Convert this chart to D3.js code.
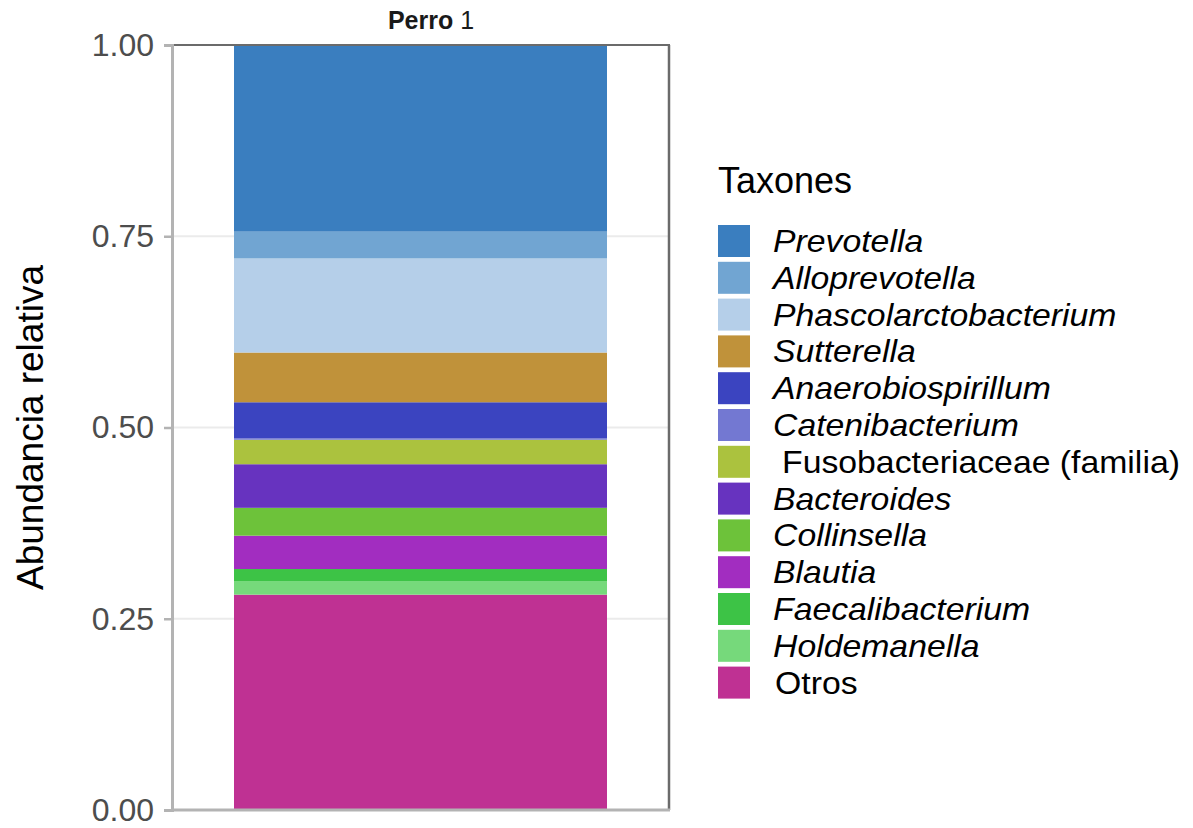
<!DOCTYPE html>
<html>
<head>
<meta charset="utf-8">
<script src="https://cdn.jsdelivr.net/npm/d3@7"></script>
<style>
  body { margin: 0; background: #fff; }
  svg { display: block; font-family: "Liberation Sans", Arial, sans-serif; }
</style>
</head>
<body>
<svg id="chart" width="1193" height="828"></svg>
<script>
// Data (stack order bottom -> top is reverse of legend order)
const sample = "Perro 1";
const taxa = ["Prevotella","Alloprevotella","Phascolarctobacterium","Sutterella","Anaerobiospirillum","Catenibacterium","Fusobacteriaceae (familia)","Bacteroides","Collinsella","Blautia","Faecalibacterium","Holdemanella","Otros"];
const values = [0.244, 0.035, 0.123, 0.065, 0.047, 0.002, 0.032, 0.057, 0.0364, 0.0436, 0.0157, 0.0178, 0.2815];
const colors = ["#3a7ebf","#71a5d2","#b5cfe9","#c0923a","#3b44c0","#7378d2","#abc23e","#6733bf","#6dc23a","#a22dc0","#3dc346","#76d97b","#bf3193"];
const italicTaxa = [true,true,true,true,true,true,false,true,true,true,true,true,false];
const yTicks = [0, 0.25, 0.5, 0.75, 1.0];

const svg = d3.select("#chart");
const panel = {left: 172, right: 669, top: 45, bottom: 810};

const y = d3.scaleLinear().domain([0, 1]).range([panel.bottom, panel.top]);

// gridlines
svg.append("g").selectAll("line").data(yTicks).join("line")
  .attr("x1", panel.left).attr("x2", panel.right)
  .attr("y1", d => y(d)).attr("y2", d => y(d))
  .attr("stroke", "#ebebeb").attr("stroke-width", 2);

// stacked segments: bottom = last taxon
const stackData = [];
let acc = 0;
for (let i = taxa.length - 1; i >= 0; i--) {
  stackData.push({taxon: taxa[i], y0: acc, y1: acc + values[i], color: colors[i]});
  acc += values[i];
}
const barX0 = 234, barX1 = 607;
svg.append("g").selectAll("rect").data(stackData).join("rect")
  .attr("x", barX0)
  .attr("width", barX1 - barX0)
  .attr("y", d => y(d.y1))
  .attr("height", d => y(d.y0) - y(d.y1))
  .attr("fill", d => d.color);

// panel borders
svg.append("line").attr("x1", panel.left).attr("x2", panel.right + 1).attr("y1", panel.top).attr("y2", panel.top)
  .attr("stroke", "#6b6b6b").attr("stroke-width", 2);
svg.append("line").attr("x1", panel.right).attr("x2", panel.right).attr("y1", panel.top).attr("y2", panel.bottom)
  .attr("stroke", "#6b6b6b").attr("stroke-width", 2.5);
svg.append("line").attr("x1", panel.left).attr("x2", panel.right + 1).attr("y1", panel.bottom).attr("y2", panel.bottom)
  .attr("stroke", "#b3b3b3").attr("stroke-width", 3);

// y axis
const yAxis = d3.axisLeft(y).tickValues(yTicks).tickFormat(d3.format(".2f")).tickSize(8).tickPadding(10);
const gy = svg.append("g").attr("transform", `translate(${panel.left},0)`).call(yAxis);
gy.select(".domain").attr("stroke", "#b3b3b3").attr("stroke-width", 3);
gy.selectAll(".tick line").attr("stroke", "#b3b3b3").attr("stroke-width", 2.5);
gy.selectAll(".tick text").attr("font-size", 32).attr("fill", "#4d4d4d")
  .attr("font-family", "'Liberation Sans', Arial, sans-serif");

// y label
svg.append("text")
  .attr("transform", `translate(43, ${(panel.top + panel.bottom) / 2}) rotate(-90)`)
  .attr("text-anchor", "middle")
  .attr("font-size", 37).attr("fill", "#000")
  .text("Abundancia relativa");

// title
const title = svg.append("text").attr("x", 431).attr("y", 29)
  .attr("text-anchor", "middle").attr("font-size", 25).attr("fill", "#1a1a1a");
title.append("tspan").attr("font-weight", "bold").text("Perro");
title.append("tspan").text(" 1");

// legend
const lg = svg.append("g");
lg.append("text").attr("x", 718).attr("y", 193).attr("font-size", 36).attr("fill", "#000").text("Taxones");
const pitch = 36.8;
const items = lg.selectAll("g.item").data(taxa).join("g").attr("class", "item")
  .attr("transform", (d, i) => `translate(718, ${225 + i * pitch})`);
items.append("rect").attr("width", 32).attr("height", 32).attr("fill", (d, i) => colors[i]);
items.append("text")
  .attr("transform", (d, i) => `translate(${italicTaxa[i] ? 55 : (d === "Otros" ? 57 : 64)}, 27) scale(1.09, 1)`)
  .attr("font-size", 31)
  .attr("font-style", (d, i) => italicTaxa[i] ? "italic" : "normal")
  .attr("fill", "#000")
  .text(d => d);
</script>
</body>
</html>
